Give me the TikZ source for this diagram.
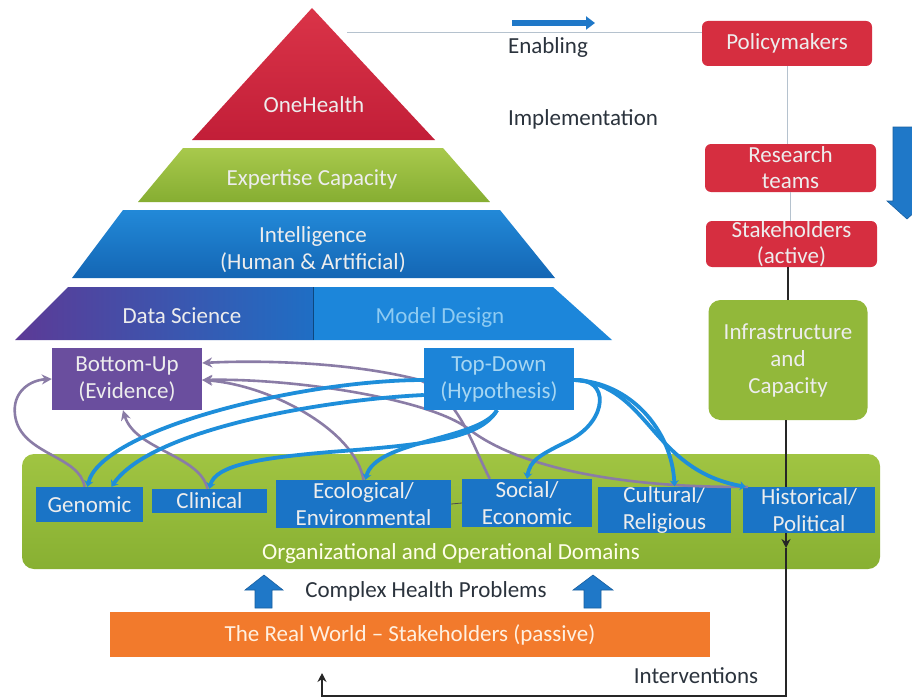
\documentclass[tikz,border=0pt]{standalone}
\usepackage{fontspec}
\setmainfont{Carlito}
\usetikzlibrary{arrows.meta,calc}

\definecolor{ohtop}{HTML}{DA3448}
\definecolor{ohbot}{HTML}{C21E38}
\definecolor{exptop}{HTML}{A8C94C}
\definecolor{expbot}{HTML}{86AE32}
\definecolor{inttop}{HTML}{2289D8}
\definecolor{intbot}{HTML}{1466B4}
\definecolor{dsleft}{HTML}{5C3A96}
\definecolor{dsright}{HTML}{1F6EC4}
\definecolor{mdfill}{HTML}{1C86DA}
\definecolor{bufill}{HTML}{6A4E9E}
\definecolor{tdfill}{HTML}{1C84D8}
\definecolor{domblue}{HTML}{1A74C6}
\definecolor{bandtop}{HTML}{A0C442}
\definecolor{bandbot}{HTML}{88B032}
\definecolor{boxred}{HTML}{D62E40}
\definecolor{infragreen}{HTML}{92B83A}
\definecolor{realorange}{HTML}{F27A2C}
\definecolor{curvegray}{HTML}{8A7CA6}
\definecolor{curveblue}{HTML}{1E8EDA}
\definecolor{arrowblue}{HTML}{1F78C8}
\definecolor{linkgray}{HTML}{B5C2CE}
\definecolor{labeldark}{HTML}{2B333D}
\definecolor{paletext}{HTML}{EDEDED}
\definecolor{tdtext}{HTML}{A6D6F2}
\definecolor{mdtext}{HTML}{8ECBF2}

\begin{document}
\begin{tikzpicture}[x=1pt,y=-1pt,
  lbl/.style={font=\fontsize{23}{27}\selectfont, inner sep=0pt, align=center},
  darklbl/.style={lbl, text=labeldark, anchor=base},
  pyrlbl/.style={lbl, text=paletext, anchor=base},
  dombox/.style={lbl, fill=domblue, text=paletext},
  redbox/.style={lbl, font=\fontsize{23}{26}\selectfont, fill=boxred, rounded corners=6pt, text=paletext, minimum width=171pt},
  graycurve/.style={draw=curvegray, line width=2.6pt, -{Stealth[length=10pt,width=10pt]}},
  bluecurve/.style={draw=curveblue, line width=3.8pt, -{Stealth[length=6pt,width=9pt]}},
  thinlink/.style={draw=linkgray, line width=0.9pt},
  darklink/.style={draw=black!85, line width=2pt},
  blockarrow/.style={fill=arrowblue, draw=arrowblue!80!black, line width=0.6pt},
]
\fill[white] (0,0) rectangle (912,698);
\useasboundingbox (0,0) rectangle (912,698);

% ---------- pyramid ----------
\shade[top color=ohtop, bottom color=ohbot] (312,8) -- (435,140) -- (192,140) -- cycle;
\node[pyrlbl] (onehealth) at (314,113) {OneHealth};
\shade[top color=exptop, bottom color=expbot] (183,148) -- (443,148) -- (490,202) -- (138,202) -- cycle;
\node[pyrlbl] (expertise) at (312,185) {Expertise Capacity};
\shade[top color=inttop, bottom color=intbot] (123,210) -- (500,210) -- (555,278) -- (72,278) -- cycle;
\node[lbl, text=paletext] (intel) at (313,250) {Intelligence\\(Human \& Artificial)};
\shade[left color=dsleft, right color=dsright] (68,287) -- (313,287) -- (313,340) -- (15,340) -- cycle;
\fill[mdfill] (313,287) -- (553,287) -- (612,340) -- (313,340) -- cycle;
\draw[draw=intbot!70!black, line width=1pt] (313,287) -- (313,340);
\node[pyrlbl] (datasci) at (182,323) {Data Science};
\node[lbl, text=mdtext, anchor=base] (modeldes) at (440,323) {Model Design};

% ---------- right column ----------
\node[redbox, minimum width=170pt, minimum height=45pt] (policy) at (787,43.5) {Policymakers};
\node[redbox, minimum height=48pt] (research) at (790.5,168) {Research\\teams};
\node[redbox, minimum height=46pt] (stake) at (791.5,244) {Stakeholders\\(active)};
\node[lbl, fill=infragreen, rounded corners=12pt, text=paletext, minimum width=159pt, minimum height=120pt] (infra) at (788,360) {Infrastructure\\and\\Capacity};

\coordinate (ohline) at (347,32);
\draw[thinlink] (ohline) -- (ohline -| policy.west);
\draw[thinlink] (policy.south) -- (policy.south |- research.north);
\draw[thinlink] (research.south) -- (research.south |- stake.north);
\draw[darklink] (infra.north |- stake.south) -- (infra.north);

\draw[draw=arrowblue, line width=5.5pt, -{Triangle[length=9pt,width=13pt]}] (512,23) -- (595,23);
\node[darklbl] (enabling) at (548,54) {Enabling};
\node[darklbl] (implement) at (583,125) {Implementation};
\fill[blockarrow] (893,127) -- (921,127) -- (921,201) -- (927,201) -- (907,219) -- (887,201) -- (893,201) -- cycle;

% ---------- green band ----------
\shade[top color=bandtop, bottom color=bandbot, rounded corners=12pt] (22,454) rectangle (880,569);
\node[lbl, text=white!92!yellow, anchor=base] (orgdom) at (451,559) {Organizational and Operational Domains};

% interventions loop
\coordinate (drop) at (786,548);
\coordinate (realarrow) at (322,673);
\draw[darklink, -{Stealth[length=9pt,width=9pt]}] (infra.south -| drop) -- (drop);
\draw[darklink, -{Stealth[length=9pt,width=9pt]}] (drop) -- (786,696) -| (realarrow);
\node[darklbl] (interv) at (696,683) {Interventions};

% ---------- domain boxes ----------
\node[dombox, minimum width=107pt, minimum height=35pt] (genomic) at (89.5,504.5) {Genomic};
\node[dombox, minimum width=115pt, minimum height=24pt] (clinical) at (209.5,501) {Clinical};
\node[dombox, minimum width=175pt, minimum height=48pt] (eco) at (363.5,504) {Ecological/\\Environmental};
\node[dombox, minimum width=130pt, minimum height=48pt] (social) at (527,503) {Social/\\Economic};
\node[dombox, minimum width=133pt, minimum height=46pt] (cultural) at (664.5,510) {Cultural/\\Religious};
\node[dombox, minimum width=132pt, minimum height=46pt] (historical) at (809,510) {Historical/\\Political};
\draw[draw=black!70, line width=0.8pt] (eco.east) -- (social.west);

% ---------- bottom-up / top-down boxes ----------
\node[lbl, fill=bufill, text=paletext, minimum width=150pt, minimum height=62pt] (bu) at (127,379) {Bottom-Up\\(Evidence)};

% gray curves towards Bottom-Up
\draw[graycurve] ($(genomic.north)+(-5,0)$) .. controls (80,455) and (20,455) .. (15,415) .. controls (12,392) and (30,380) .. (bu.west);
\draw[graycurve] ($(clinical.north)+(-2,0)$) .. controls (200,455) and (135,450) .. ($(bu.south)+(-4,0)$);
\draw[graycurve] (eco.north) .. controls (355,430) and (270,385) .. ($(bu.east)+(0,1)$);
\draw[graycurve] ($(social.north west)+(28,0)$) .. controls (470,440) and (460,400) .. (420,380) .. controls (350,362) and (260,360) .. ($(bu.east)+(0,-16)$);
\draw[graycurve] ($(historical.north west)+(5,0)$) .. controls (650,488) and (530,475) .. (470,430) .. controls (430,398) and (290,378) .. ($(bu.east)+(0,1)$);

\node[lbl, fill=tdfill, text=tdtext, minimum width=150pt, minimum height=62pt] (td) at (499,379) {Top-Down\\(Hypothesis)};

% blue curves from Top-Down
\draw[bluecurve] ($(td.west)+(0,1)$) .. controls (300,380) and (100,430) .. ($(genomic.north)+(-2,0)$);
\draw[bluecurve] ($(td.west)+(0,16)$) .. controls (320,400) and (150,430) .. ($(genomic.north)+(22,0)$);
\draw[bluecurve] ($(td.south)+(-2,0)$) .. controls (480,440) and (420,445) .. (330,452) .. controls (260,458) and (215,465) .. (clinical.north);
\draw[bluecurve] ($(td.south)+(-2,0)$) .. controls (480,440) and (375,440) .. ($(eco.north)+(2,0)$);
\draw[bluecurve] ($(td.east)+(0,1)$) .. controls (610,378) and (608,420) .. (570,440) .. controls (540,455) and (530,460) .. (social.north);
\draw[bluecurve] ($(td.east)+(0,1)$) .. controls (630,382) and (672,430) .. ($(cultural.north)+(10,0)$);
\draw[bluecurve] ($(td.east)+(0,1)$) .. controls (650,385) and (650,470) .. ($(historical.north west)+(3,0)$);

% ---------- bottom ----------
\fill[blockarrow] (255,608) -- (255,590) -- (245,590) -- (264,575) -- (283,590) -- (272,590) -- (272,608) -- cycle;
\fill[blockarrow] (584,608) -- (584,590) -- (573,590) -- (593,575) -- (613,590) -- (601,590) -- (601,608) -- cycle;
\node[darklbl] (complex) at (426,597) {Complex Health Problems};
\node[lbl, fill=realorange, text=white!88!orange, minimum width=600pt, minimum height=45pt] (real) at (410,634.5) {The Real World -- Stakeholders (passive)};
\end{tikzpicture}
\end{document}
